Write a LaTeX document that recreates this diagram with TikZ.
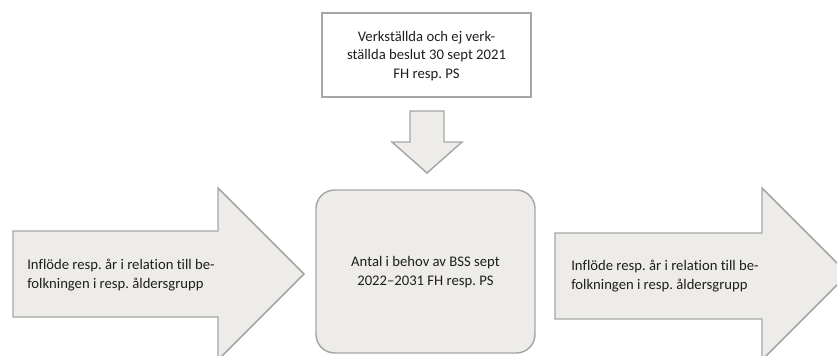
\documentclass[tikz,border=0pt]{standalone}
\usepackage{fontspec}
\setmainfont{Carlito}[Ligatures=NoCommon]
\frenchspacing
\definecolor{shapefill}{HTML}{EEECE9}
\definecolor{shapeline}{HTML}{A6A6A6}
\definecolor{txt}{HTML}{1E1E1E}
\begin{document}
\begin{tikzpicture}[x=0.75pt,y=-0.75pt,
  blockshape/.style={fill=shapefill,draw=shapeline,line width=1.1pt,line join=miter},
  lbl/.style={text=txt,font=\fontsize{11}{13.9}\selectfont,inner sep=0pt}]
\useasboundingbox (0,0) rectangle (837,356);
\clip (0,0) rectangle (837,356);
% top box
\draw[draw=shapeline,fill=white,line width=1.1pt] (322,13) rectangle (531,97);
\node[lbl,align=center] (top) at (426.5,56) {Verkställda och ej verk-\\ställda beslut 30 sept 2021\\FH resp. PS};
% down arrow
\draw[blockshape] (410,111) -- (444,111) -- (444,142) -- (462,142) -- (427,173) -- (392,142) -- (410,142) -- cycle;
% middle rounded box
\draw[blockshape,rounded corners=14pt] (316,190) rectangle (535,353);
\node[lbl,align=center] (mid) at (425.5,272) {Antal i behov av BSS sept\\2022--2031 FH resp. PS};
% left arrow
\draw[blockshape] (13,231) -- (218,231) -- (218,188) -- (304,274) -- (218,360) -- (218,317) -- (13,317) -- cycle;
\node[lbl,align=left,anchor=west] (left) at (27,275) {Inflöde resp. år i relation till be-\\folkningen i resp. åldersgrupp};
% right arrow
\draw[blockshape] (555,233) -- (762,233) -- (762,188) -- (848,274) -- (762,360) -- (762,319) -- (555,319) -- cycle;
\node[lbl,align=left,anchor=west] (right) at (571,276) {Inflöde resp. år i relation till be-\\folkningen i resp. åldersgrupp};
\end{tikzpicture}
\end{document}
